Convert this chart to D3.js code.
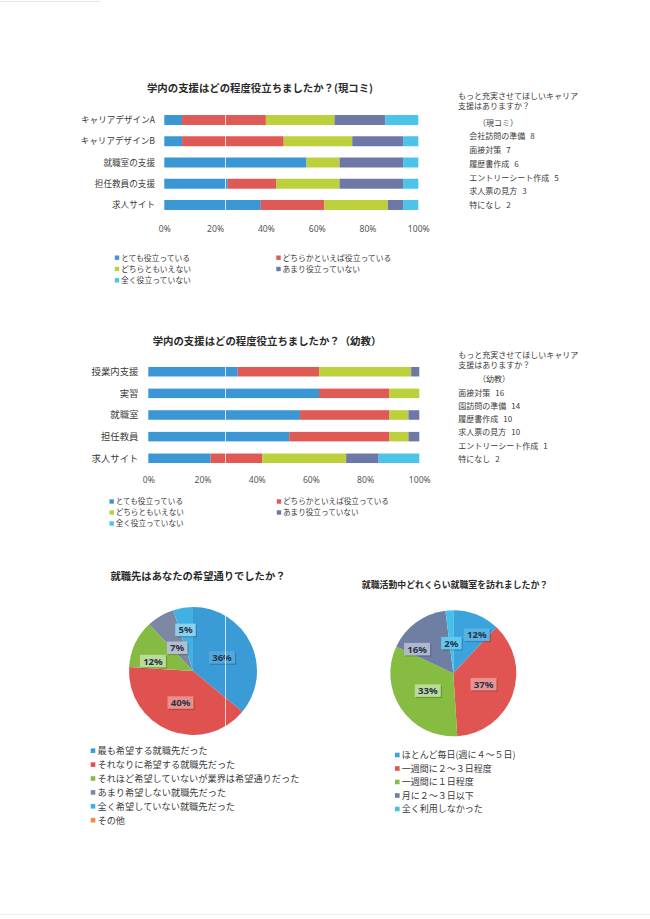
<!DOCTYPE html>
<html><head><meta charset="utf-8">
<script src="https://cdn.jsdelivr.net/npm/d3@7"></script>
<style>
html,body{margin:0;padding:0;background:#fff;}
svg{display:block;}
text{font-family:"Noto Sans CJK JP","Noto Sans",sans-serif;}
</style>
</head><body>
<svg id="c" width="650" height="919"></svg>
<script>
// ---------- DATA ----------
const seriesNames = ["とても役立っている","どちらかといえば役立っている","どちらともいえない","あまり役立っていない","全く役立っていない"];

const cats1 = ["キャリアデザインA","キャリアデザインB","就職室の支援","担任教員の支援","求人サイト"];
const v1Very    = [7, 7, 56, 25, 38];
const v1Some    = [33, 40, 0, 19, 25];
const v1Neutral = [27, 27, 13, 25, 25];
const v1Little  = [20, 20, 25, 25, 6];
const v1None    = [13, 6, 6, 6, 6];

const cats2 = ["授業内支援","実習","就職室","担任教員","求人サイト"];
const v2Very    = [33, 63, 56, 52, 23];
const v2Some    = [30, 26, 33, 37, 19];
const v2Neutral = [34, 11, 7, 7, 31];
const v2Little  = [3, 0, 4, 4, 12];
const v2None    = [0, 0, 0, 0, 15];

const tickValues = [0, 20, 40, 60, 80, 100];
const tickLabels = ["0%","20%","40%","60%","80%","100%"];

const title1 = "学内の支援はどの程度役立ちましたか？(現コミ)";
const title2 = "学内の支援はどの程度役立ちましたか？（幼教）";

const noteHead = ["もっと充実させてほしいキャリア","支援はありますか？"];
const note1Group = "（現コミ）";
const note1Items = ["会社訪問の準備","面接対策","履歴書作成","エントリーシート作成","求人票の見方","特になし"];
const note1Counts = [8, 7, 6, 5, 3, 2];
const note2Group = "（幼教）";
const note2Items = ["面接対策","園訪問の準備","履歴書作成","求人票の見方","エントリーシート作成","特になし"];
const note2Counts = [16, 14, 10, 10, 1, 2];

const pie1Title = "就職先はあなたの希望通りでしたか？";
const pie1Labels = ["最も希望する就職先だった","それなりに希望する就職先だった","それほど希望していないが業界は希望通りだった","あまり希望しない就職先だった","全く希望していない就職先だった","その他"];
const pie1Values = [36, 40, 12, 7, 5, 0];

const pie2Title = "就職活動中どれくらい就職室を訪れましたか？";
const pie2Labels = ["ほとんど毎日(週に４～５日)","一週間に２～３日程度","一週間に１日程度","月に２～３日以下","全く利用しなかった"];
const pie2Values = [12, 37, 33, 16, 2];

// ---------- STYLE / LAYOUT ----------
const barColors = ["#3a97d4","#e05a55","#bcd03c","#6d78a6","#4cc4ea"];
const pie1Colors = ["#3a9bd6","#e0524f","#86bb43","#7b87a3","#40b1e2","#f08c40"];
const pie2Colors = ["#3ba4dd","#e05552","#85bc41","#6f7ea3","#45c0ea"];
const txt = "#3a3a3a";

const svg = d3.select("#c");

// faint page edges
svg.append("line").attr("x1",0).attr("x2",100).attr("y1",1.5).attr("y2",1.5).attr("stroke","#e4e4e4");
svg.append("line").attr("x1",0).attr("x2",650).attr("y1",914.5).attr("y2",914.5).attr("stroke","#ececec");

function drawBar(cfg) {
  const g = svg.append("g");
  const series = cfg.values;
  const x = d3.scaleLinear().domain([0,100]).range(cfg.xRange);
  const y = d3.scaleBand().domain(cfg.cats).range(cfg.yRange).paddingInner(cfg.pad).paddingOuter(cfg.pad/2);
  const rows = cfg.cats.map((c,i) => {
    const o = {cat:c};
    seriesNames.forEach((s,k) => o[s] = series[k][i]);
    return o;
  });
  const stack = d3.stack().keys(seriesNames)(rows);
  g.selectAll("g.s").data(stack).join("g").attr("fill",(d,i)=>barColors[i])
    .selectAll("rect").data(d=>d).join("rect")
    .attr("x", d=>x(d[0])).attr("width", d=>Math.max(0, x(d[1])-x(d[0])))
    .attr("y", d=>y(d.data.cat)).attr("height", y.bandwidth());

  g.append("text").attr("x", cfg.titleX).attr("y", cfg.titleY).attr("text-anchor","middle")
    .attr("font-size", 10.4).attr("font-weight", 700).attr("fill","#2a2a2a").text(cfg.title);

  g.selectAll("text.cat").data(cfg.cats).join("text").attr("class","cat")
    .attr("x", cfg.catX).attr("y", d=>y(d)+y.bandwidth()/2).attr("dy","0.35em")
    .attr("text-anchor","end").attr("font-size", cfg.catSize).attr("fill", txt).text(d=>d);

  const ax = d3.axisBottom(x).tickValues(tickValues).tickFormat((d,i)=>tickLabels[i]).tickSize(0).tickPadding(0);
  const axg = g.append("g").attr("transform", `translate(0,${cfg.axisY})`).call(ax);
  axg.select(".domain").remove();
  axg.selectAll("text").attr("font-size", 8.6).attr("fill","#555")
    .style("font-family",'"Noto Sans","Noto Sans CJK JP",sans-serif');

  const leg = g.append("g");
  seriesNames.forEach((s,i) => {
    const col = i % 2, row = Math.floor(i/2);
    const lx = cfg.legX[col], ly = cfg.legY + row*cfg.legStep;
    leg.append("rect").attr("x", lx-2.2).attr("y", ly-2.2).attr("width",4.4).attr("height",4.4).attr("fill", barColors[i]);
    leg.append("text").attr("x", lx+4).attr("y", ly).attr("dy","0.36em").attr("font-size", cfg.legSize).attr("fill", txt).text(s);
  });
}

drawBar({
  cats: cats1, values:[v1Very,v1Some,v1Neutral,v1Little,v1None], title: title1,
  titleX: 260, titleY: 92, xRange:[164.3, 418.3], yRange:[109.4, 215.6], pad:0.53,
  catX: 155, catSize: 8.6, axisY: 226,
  legX:[117, 278.5], legY: 257.7, legStep: 11.3, legSize: 7.8
});
drawBar({
  cats: cats2, values:[v2Very,v2Some,v2Neutral,v2Little,v2None], title: title2,
  titleX: 267, titleY: 344.5, xRange:[148.3, 419.3], yRange:[360.9, 469.1], pad:0.56,
  catX: 138.5, catSize: 9.4, axisY: 477,
  legX:[111.7, 279], legY: 501.5, legStep: 11, legSize: 7.6
});

function drawNote(x0, y0, group, groupX, groupY, items, counts, itemX, itemY0, itemStep) {
  const g = svg.append("g").attr("font-size", 8).attr("fill", txt);
  noteHead.forEach((t,i) => g.append("text").attr("x", x0).attr("y", y0 + i*10.5).attr("dy","0.35em").text(t));
  g.append("text").attr("x", groupX).attr("y", groupY).attr("dy","0.35em").text(group);
  items.forEach((t,i) => {
    const tx = g.append("text").attr("x", itemX).attr("y", itemY0 + i*itemStep).attr("dy","0.35em");
    tx.append("tspan").text(t);
    tx.append("tspan").attr("dx", 5).text(counts[i]);
  });
}
drawNote(458, 96, note1Group, 478, 123.3, note1Items, note1Counts, 469.3, 136, 13.9);
drawNote(458.3, 355, note2Group, 478, 379.3, note2Items, note2Counts, 458.3, 392.7, 13.3);

// ---------- PIES ----------
function drawPie(cfg) {
  const g = svg.append("g");
  g.append("text").attr("x", cfg.titleX).attr("y", cfg.titleY).attr("dy","0.35em").attr("text-anchor","middle")
    .attr("font-size", cfg.titleSize).attr("font-weight",700).attr("fill","#2a2a2a").text(cfg.title);
  const pie = d3.pie().sort(null).value(d=>d)(cfg.values);
  const arc = d3.arc().innerRadius(0).outerRadius(cfg.r);
  const pg = g.append("g").attr("transform", `translate(${cfg.cx},${cfg.cy})`);
  pg.selectAll("path").data(pie).join("path").attr("d", arc).attr("fill", (d,i)=>cfg.colors[i]);

  pie.forEach((d,i) => {
    if (d.value <= 0) return;
    const f = cfg.labelF[i];
    const la = d3.arc().innerRadius(cfg.r*f).outerRadius(cfg.r*f);
    const c = la.centroid(d);
    const nx = (cfg.nudge[i]||[0,0]);
    const lx = c[0] + nx[0], ly = c[1] + nx[1];
    const lg = pg.append("g").attr("transform", `translate(${lx},${ly})`);
    const t = lg.append("text").attr("text-anchor","middle").attr("dy","0.36em")
      .attr("font-size", 9.6).attr("font-weight",700).attr("fill","#24344a")
      .style("font-family",'"Noto Sans","Noto Sans CJK JP",sans-serif')
      .text(Math.round(d.value) + "%");
    const bb = t.node().getBBox();
    const w = bb.width + 6, h = 12.5;
    lg.insert("rect","text").attr("x",-w/2+1.2).attr("y",-h/2+1.2).attr("width",w).attr("height",h).attr("fill","rgba(0,0,0,0.18)");
    lg.insert("rect","text").attr("x",-w/2).attr("y",-h/2).attr("width",w).attr("height",h)
      .attr("fill", d3.interpolateRgb(cfg.colors[i], "#ffffff")(cfg.boxTint[i]));
  });

  const leg = g.append("g");
  cfg.labels.forEach((s,i) => {
    const ly = cfg.legY + i*cfg.legStep;
    leg.append("rect").attr("x", cfg.legX-2.3).attr("y", ly-2.3).attr("width",4.6).attr("height",4.6).attr("fill", cfg.colors[i]);
    leg.append("text").attr("x", cfg.legX+4.5).attr("y", ly).attr("dy","0.36em").attr("font-size", cfg.legSize).attr("fill", txt).text(s);
  });
}

drawPie({
  title: pie1Title, titleX: 198, titleY: 576.7, titleSize: 10.3,
  values: pie1Values, labels: pie1Labels, colors: pie1Colors,
  cx: 193, cy: 671, r: 64,
  labelF: [0.5, 0.53, 0.64, 0.44, 0.65, 0.5],
  nudge: [[0,0],[0,0],[-3,7.5],[-1.5,1],[-1,0],[0,0]],
  boxTint: [0.12, 0.35, 0.45, 0.45, 0.4, 0.4],
  legX: 93, legY: 750.7, legStep: 13.9, legSize: 9.2
});
drawPie({
  title: pie2Title, titleX: 455, titleY: 585, titleSize: 8.9,
  values: pie2Values, labels: pie2Labels, colors: pie2Colors,
  cx: 453.3, cy: 673.3, r: 63,
  labelF: [0.71, 0.51, 0.49, 0.68, 0.48],
  nudge: [[7,3],[0,0],[0,0],[-11,10.5],[0,0]],
  boxTint: [0.15, 0.35, 0.45, 0.45, 0.15],
  legX: 397.3, legY: 755, legStep: 13.5, legSize: 9
});

// scan artefact: faint white vertical streak
svg.append("line").attr("x1",225.5).attr("x2",225.5).attr("y1",100).attr("y2",745)
  .attr("stroke","#ffffff").attr("stroke-opacity",0.75).attr("stroke-width",1);
</script>
</body></html>
